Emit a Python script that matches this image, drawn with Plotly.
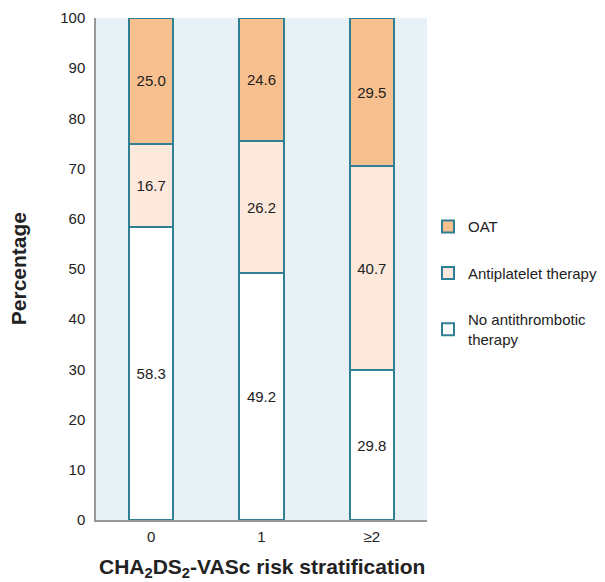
import plotly.graph_objects as go

categories = ["0", "1", "≥2"]
no_therapy = [58.3, 49.2, 29.8]
antiplatelet = [16.7, 26.2, 40.7]
oat = [25.0, 24.6, 29.5]
y_ticks = [0, 10, 20, 30, 40, 50, 60, 70, 80, 90, 100]

edge = "#2f7f95"
font_family = "Liberation Sans, Arial, sans-serif"

fig = go.Figure()
series = [
    ("OAT", oat, "#f9c08f", "g1"),
    ("Antiplatelet therapy", antiplatelet, "#fde9dc", "g2"),
    ("No antithrombotic<br>therapy", no_therapy, "#ffffff", "g3"),
]
for name, vals, color, grp in reversed(series):
    fig.add_trace(go.Bar(
        x=categories, y=vals, name=name, legendgroup=grp,
        legendrank={"g1": 1, "g2": 2, "g3": 3}[grp],
        marker=dict(color=color, line=dict(color=edge, width=2)),
        text=[f"{v:.1f}" for v in vals], textposition="inside",
        insidetextanchor="middle", textangle=0,
        textfont=dict(size=15, color="#222222", family=font_family),
        width=0.4,
    ))

fig.update_layout(
    barmode="stack",
    width=605, height=582,
    margin=dict(l=96, r=178, t=18, b=62, autoexpand=False),
    plot_bgcolor="#e8f1f5",
    paper_bgcolor="#ffffff",
    font=dict(family=font_family, size=15, color="#222222"),
    showlegend=True,
    legend=dict(
        x=1.003, xanchor="left", y=0.617, yanchor="top",
        traceorder="grouped", tracegroupgap=24,
        font=dict(size=15, color="#222222"),
        itemclick=False,
    ),
    uniformtext=dict(minsize=15, mode="show"),
    annotations=[
        dict(text="<b>Percentage</b>", xref="paper", yref="paper",
             x=-0.235, y=0.5, xanchor="center", yanchor="middle",
             textangle=-90, showarrow=False, font=dict(size=21, color="#222222")),
        dict(text="<b>CHA<sub>2</sub>DS<sub>2</sub>-VASc risk stratification</b>",
             xref="paper", yref="paper", x=0.5, y=-0.066, xanchor="center",
             yanchor="top", showarrow=False, font=dict(size=21, color="#222222")),
    ],
)
fig.update_yaxes(
    range=[0, 100], tickvals=y_ticks, showgrid=False, zeroline=False,
    showline=True, linecolor="#999999", linewidth=1.5, ticks="",
    tickfont=dict(size=15), automargin=False, ticklabelstandoff=6,
)
fig.update_xaxes(
    showgrid=False, showline=True, linecolor="#999999", linewidth=1.5, ticks="",
    tickfont=dict(size=15), automargin=False, ticklabelstandoff=2,
)

fig.write_html(
    "out.html",
    config={"responsive": False, "displayModeBar": False},
    post_script="document.body.style.margin='0';document.body.style.overflow='hidden';",
)
